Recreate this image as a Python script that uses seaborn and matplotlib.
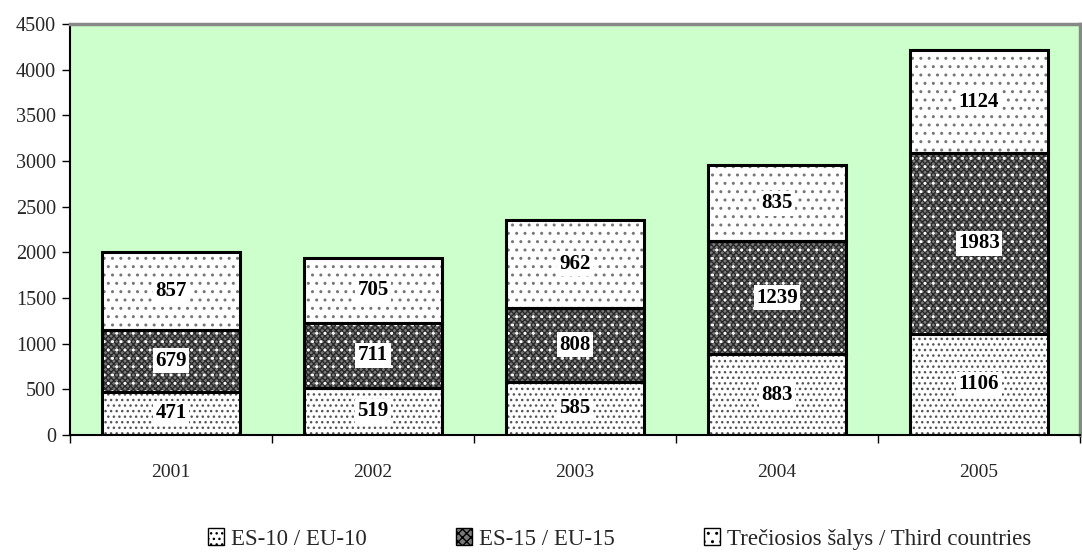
import matplotlib
matplotlib.use("Agg")
import matplotlib.pyplot as plt
import seaborn as sns
import pandas as pd
import numpy as np
from matplotlib.patches import Patch

years = ["2001", "2002", "2003", "2004", "2005"]
eu10 = [471, 519, 585, 883, 1106]
eu15 = [679, 711, 808, 1239, 1983]
third = [857, 705, 962, 835, 1124]
series_names = ["ES-10 / EU-10", "ES-15 / EU-15", "Trečiosios šalys / Third countries"]
yticks = [0, 500, 1000, 1500, 2000, 2500, 3000, 3500, 4000, 4500]

sns.set_style("ticks")
plt.rcParams['font.family'] = ['Liberation Serif', 'DejaVu Serif']
plt.rcParams['hatch.linewidth'] = 1.0

df = pd.DataFrame({"year": years, "eu10": eu10, "eu15": eu15, "third": third})
b15 = np.array(eu10, dtype=float)
b3 = np.array(eu10, dtype=float) + np.array(eu15, dtype=float)

fig = plt.figure(figsize=(10.82, 5.52), dpi=100)
ax = fig.add_axes([70/1082, 1 - 435/552, 1010/1082, 411/552])
ax.set_facecolor("#ccffcc")

W = 0.68
# EU-10 : white with dense dots
sns.barplot(data=df, x="year", y="eu10", color="white", width=W, ax=ax,
            edgecolor="#555555", linewidth=0, hatch="...", saturation=1)
# EU-15 : dark checker with white dots
sns.barplot(data=df, x="year", y="eu15", bottom=b15, color="#7a7a7a", width=W, ax=ax,
            edgecolor="#2a2a2a", linewidth=0, hatch="xxxxxx", saturation=1)
sns.barplot(data=df, x="year", y="eu15", bottom=b15, color="white", fill=False, width=W, ax=ax,
            edgecolor="white", linewidth=0, hatch="..", saturation=1)
# Third : white with sparse dots
sns.barplot(data=df, x="year", y="third", bottom=b3, color="white", width=W, ax=ax,
            edgecolor="#777777", linewidth=0, hatch="..", saturation=1)
# outlines
for col, bot in [("eu10", np.zeros(5)), ("eu15", b15), ("third", b3)]:
    sns.barplot(data=df, x="year", y=col, bottom=bot, color="black", fill=False, width=W, ax=ax,
                edgecolor="black", linewidth=2.2, saturation=1)

# labels
for i in range(len(years)):
    for val, base in [(eu10[i], 0), (eu15[i], eu10[i]), (third[i], eu10[i] + eu15[i])]:
        ax.text(i, base + val / 2, str(val), ha="center", va="center", fontsize=15,
                fontweight="bold", color="black",
                bbox=dict(boxstyle="square,pad=0.12", facecolor="white", edgecolor="none"))

ax.set_ylim(0, 4500)
ax.set_xlim(-0.5, 4.5)
ax.set_yticks(yticks)
ax.set_yticklabels([str(t) for t in yticks], fontsize=14.5)
ax.set_xticks(range(len(years)))
ax.set_xticklabels(years, fontsize=14)
ax.set_xticks(np.arange(-0.5, 5.0, 1.0), minor=True)
ax.tick_params(axis="x", which="major", length=0, pad=21)
ax.tick_params(axis="x", which="minor", length=6, width=1, color="black", direction="out")
ax.tick_params(axis="y", length=6, width=1, color="black", direction="out", pad=4)
ax.set_xlabel("")
ax.set_ylabel("")

for s in ["top", "right"]:
    ax.spines[s].set_visible(True)
    ax.spines[s].set_color("#888888")
    ax.spines[s].set_linewidth(2.5)
for s in ["left", "bottom"]:
    ax.spines[s].set_color("black")
    ax.spines[s].set_linewidth(1.5)

handles = [
    Patch(facecolor="white", edgecolor="black", hatch="...", linewidth=1),
    Patch(facecolor="#7a7a7a", edgecolor="black", hatch="xxxx", linewidth=1),
    Patch(facecolor="white", edgecolor="black", hatch="..", linewidth=1),
]
fig.legend(handles, series_names, loc="center left", bbox_to_anchor=(208/1082, 1 - 539/552),
           ncol=3, frameon=False, fontsize=16.5, handlelength=0.7, handleheight=0.7,
           handletextpad=0.3, columnspacing=3.9, borderaxespad=0, borderpad=0)

fig.savefig("out.png", dpi=100)
